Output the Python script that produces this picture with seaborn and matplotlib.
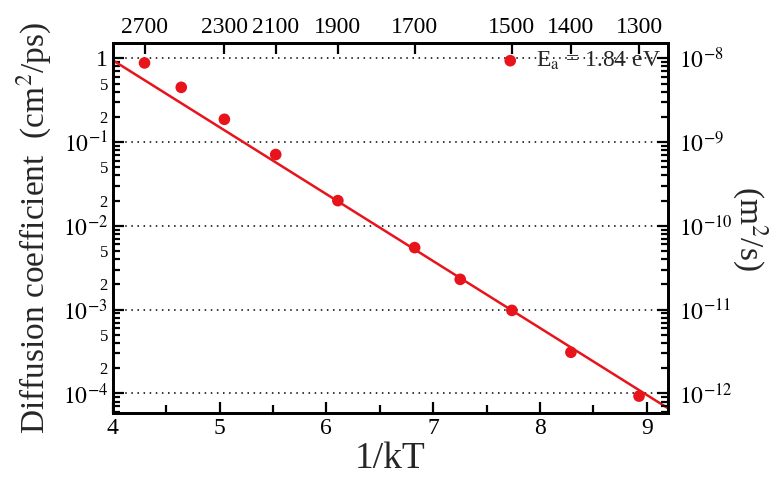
import numpy as np
import pandas as pd
import matplotlib
matplotlib.use("Agg")
import matplotlib.pyplot as plt
import matplotlib.ticker as mticker
import seaborn as sns

# data
temperature = [2700, 2500, 2300, 2100, 1900, 1700, 1600, 1500, 1400, 1300]
diffusion = [0.88, 0.45, 0.187, 0.071, 0.020, 0.0055, 0.0023, 0.00098, 0.00031, 0.000093]
top_ticks = [2700, 2300, 2100, 1900, 1700, 1500, 1400, 1300]
Ea = 1.84
kB = 8.617e-5

df = pd.DataFrame({"T": temperature, "D": diffusion})
df["invkT"] = 1.0 / (kB * df["T"])

# Arrhenius line with Ea = 1.84 eV, anchored on the 1500 K point
ref = df[df["T"] == 1500].iloc[0]
logA = np.log10(ref["D"]) + Ea / np.log(10) * ref["invkT"]
xfit = np.linspace(4.0, 9.2, 50)
fit = pd.DataFrame({"x": xfit, "y": 10 ** (logA - Ea / np.log(10) * xfit)})

sns.set_theme(style="ticks")
plt.rcParams["font.family"] = ["Liberation Serif", "DejaVu Serif"]
plt.rcParams["mathtext.fontset"] = "stix"

ylo, yhi = 5.8e-5, 1.53

fig = plt.figure(figsize=(7.77, 4.92), dpi=100)
ax = fig.add_axes([0.145, 0.16, 0.715, 0.753])

sns.lineplot(data=fit, x="x", y="y", color="#e8141c", linewidth=1.8, ax=ax)
sns.scatterplot(data=df, x="invkT", y="D", color="#e8141c", s=70, edgecolor="none",
                label=r"E$_\mathrm{a}$ = 1.84 eV", ax=ax, zorder=5)

ax.set_yscale("log")
ax.set_xlim(4.0, 9.2)
ax.set_ylim(ylo, yhi)

# left axis ticks
ax.yaxis.set_major_locator(mticker.LogLocator(base=10, numticks=20))
ax.yaxis.set_major_formatter(mticker.FuncFormatter(
    lambda v, p: "1" if abs(v - 1) < 1e-9 else r"$10^{%d}$" % round(np.log10(v))))
ax.yaxis.set_minor_locator(mticker.LogLocator(base=10, subs=np.arange(2, 10), numticks=20))

def minor_fmt(v, p):
    m = v / 10 ** np.floor(np.log10(v) + 1e-9)
    return "%d" % round(m) if round(m) in (2, 5) else ""

ax.yaxis.set_minor_formatter(mticker.FuncFormatter(minor_fmt))
ax.xaxis.set_major_locator(mticker.MultipleLocator(1))
ax.xaxis.set_minor_locator(mticker.MultipleLocator(0.5))
ax.tick_params(which="both", direction="in", top=False, right=False, width=1.6, colors="black")
ax.tick_params(which="major", length=8, labelsize=17)
ax.tick_params(axis="y", which="minor", left=True, length=5, labelsize=12)
ax.tick_params(axis="x", which="minor", bottom=True, length=6)
ax.grid(axis="y", which="major", linestyle=(0, (1, 3)), color="black", linewidth=1.1)

ax.set_xlabel("1/kT", fontsize=27, labelpad=2)
ax.set_ylabel(r"Diffusion coefficient  (cm$^2$/ps)", fontsize=24, labelpad=6)

ax.legend(loc="upper right", frameon=False, fontsize=17, handletextpad=0.1,
          borderaxespad=0.0, borderpad=0.3)

# right axis in m^2/s
axr = ax.twinx()
axr.set_yscale("log")
axr.set_ylim(ylo * 1e-8, yhi * 1e-8)
axr.yaxis.set_major_locator(mticker.LogLocator(base=10, numticks=20))
axr.yaxis.set_major_formatter(mticker.FuncFormatter(
    lambda v, p: r"$10^{%d}$" % round(np.log10(v))))
axr.yaxis.set_minor_locator(mticker.LogLocator(base=10, subs=np.arange(2, 10), numticks=20))
axr.yaxis.set_minor_formatter(mticker.NullFormatter())
axr.tick_params(which="both", direction="in", width=1.6, colors="black")
axr.tick_params(which="major", length=8, labelsize=17, pad=8)
axr.tick_params(which="minor", right=True, length=5)
axr.set_ylabel(r"(m$^2$/s)", fontsize=24, rotation=270, labelpad=26)

# top axis in temperature
axt = ax.twiny()
axt.set_xlim(ax.get_xlim())
axt.set_xticks([1.0 / (kB * t) for t in top_ticks])
axt.set_xticklabels([str(t) for t in top_ticks])
axt.xaxis.set_minor_locator(mticker.NullLocator())
axt.tick_params(direction="in", length=8, width=1.6, labelsize=17, colors="black")

for a in (ax, axr, axt):
    for s in a.spines.values():
        s.set_linewidth(1.8)
        s.set_color("black")

fig.savefig("out.png", dpi=100)
